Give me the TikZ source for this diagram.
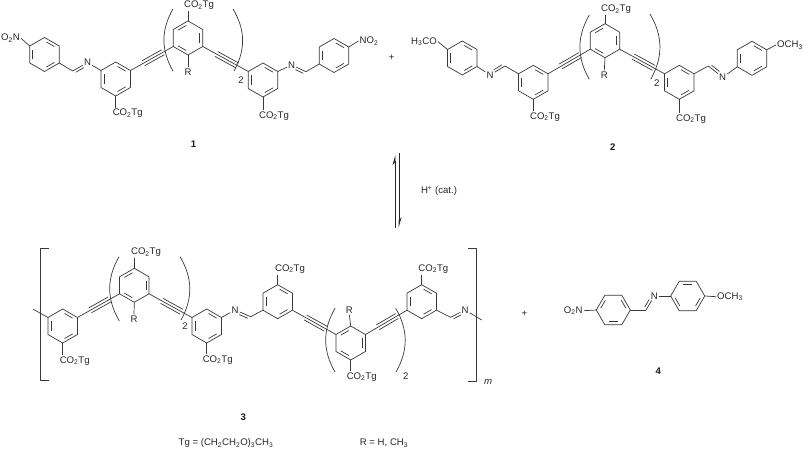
\documentclass[tikz,border=0pt]{standalone}
\usepackage{fontspec}
\setmainfont{Liberation Sans}
\usetikzlibrary{calc, arrows.meta, positioning}
\tikzset{
  bond/.style={line width=0.7pt, color=black!78, line join=round},
  lbl/.style={font=\fontsize{9.6}{11}\selectfont, text=black!85, inner sep=1pt},
  num/.style={font=\fontsize{9.6}{11}\selectfont\bfseries, text=black!90, inner sep=1pt},
  equil/.style={line width=0.7pt, color=black!85, -{Stealth[left, length=9pt, width=5pt]}},
  parenl/.style={bond, bend right=30},
  parenr/.style={bond, bend left=30}
}
\newcommand{\coTg}{CO\textsubscript{2}Tg}
% ring: name, centre x, centre y, start angle, sides with an inner line
\newcommand{\benz}[5]{
  \coordinate (#1) at (#2,#3);
  \foreach \k in {0,...,5}{
    \coordinate (#1-\k) at ($(#1)+({17*sin(60*\k+#4)},{-17*cos(60*\k+#4)})$);
  }
  \draw[bond] (#1-0) -- (#1-1) -- (#1-2) -- (#1-3) -- (#1-4) -- (#1-5) -- cycle;
  \foreach \k in {#5}{
    \pgfmathtruncatemacro{\m}{mod(\k+1,6)}
    \draw[bond] ($($(#1-\k)!.16!(#1-\m)$)!.2!(#1)$) -- ($($(#1-\m)!.16!(#1-\k)$)!.2!(#1)$);
  }
}
% triple bond between two ring corners
\newcommand{\alkyne}[2]{
  \draw[bond] (#1) -- (#2);
  \draw[bond] ($($(#1)!.3!(#2)$)!2.8pt!90:(#2)$) -- ($($(#1)!.76!(#2)$)!2.8pt!90:(#2)$);
  \draw[bond] ($($(#1)!.3!(#2)$)!-2.8pt!90:(#2)$) -- ($($(#1)!.76!(#2)$)!-2.8pt!90:(#2)$);
}
% C=N: carbon, nitrogen node, side of the second line
\newcommand{\imine}[3]{
  \draw[bond] (#1) -- (#2);
  \draw[bond] ($($(#1)!.12!(#2)$)!#3!90:(#2)$) -- ($($(#1)!.66!(#2)$)!#3!90:(#2)$);
}
% ester group: name, ring corner, x, y, side of the label that the bond meets
\newcommand{\ester}[5]{
  \node[lbl] (#1) at (#3,#4) {\coTg};
  \draw[bond] (#2) -- (#2 |- #1.#5);
}
\begin{document}
\begin{tikzpicture}[x=1pt, y=-1pt]
  \useasboundingbox (0,0) rectangle (803,449);

  % Compound 1
  \benz{aa}{44.5}{54.5}{0}{0,2,4}
  \benz{ab}{115.7}{79}{0}{0,2,4}
  \benz{ac}{188}{38}{0}{1,3,5}
  \benz{ad}{263}{80}{0}{0,2,4}
  \benz{ae}{334}{55.5}{0}{0,2,4}
  \node[lbl] (aO) at (10.5,38.3) {O\textsubscript{2}N};
  \node[lbl] (aNO) at (369,41) {NO\textsubscript{2}};
  \draw[bond] (aa-5) -- (aO.east);
  \draw[bond] (ae-1) -- (aNO.west);
  \node[lbl] (aNl) at (87.5,62.5) {N};
  \coordinate (aCl) at (72.7,71);
  \draw[bond] (aa-2) -- (aCl);
  \imine{aCl}{aNl}{-2.6pt}
  \draw[bond] (aNl) -- (ab-5);
  \node[lbl] (aNr) at (291.7,65) {N};
  \coordinate (aCr) at (306,71.7);
  \draw[bond] (ad-1) -- (aNr);
  \imine{aCr}{aNr}{2.6pt}
  \draw[bond] (aCr) -- (ae-4);
  \alkyne{ab-1}{ac-4}
  \alkyne{ac-2}{ad-5}
  \ester{aTl}{ab-3}{127.7}{113.5}{north}
  \ester{aTm}{ac-0}{199}{5.5}{south}
  \ester{aTr}{ad-3}{274}{115.7}{north}
  \node[lbl] (aR) at (188,72) {R};
  \draw[bond] (ac-3) -- (aR.north);
  \draw[parenl] (173,9) to (173,71);
  \draw[parenr] (233,9) to (234,71);
  \node[lbl] (aTwo) at (241,80) {2};
  \node[num] (one) at (193.5,144) {1};
  \node[lbl] (plusA) at (391.7,57.5) {+};

  % Compound 2
  \benz{ba}{462.3}{58}{0}{0,2,4}
  \benz{bb}{533.3}{82.3}{0}{0,2,4}
  \benz{bc}{605}{40.7}{0}{1,3,5}
  \benz{bd}{679.3}{82.3}{0}{0,2,4}
  \benz{be}{752}{58.3}{0}{0,2,4}
  \node[lbl] (bO) at (424,41.7) {H\textsubscript{3}CO};
  \node[lbl] (bOr) at (790,45) {OCH\textsubscript{3}};
  \draw[bond] (ba-5) -- (bO.east);
  \draw[bond] (be-1) -- (bOr.west);
  \node[lbl] (bNl) at (490,75) {N};
  \coordinate (bCl) at (505,66);
  \draw[bond] (ba-2) -- (bNl);
  \imine{bCl}{bNl}{-2.6pt}
  \draw[bond] (bCl) -- (bb-5);
  \node[lbl] (bNr) at (722.7,77.3) {N};
  \coordinate (bCr) at (708.3,66);
  \draw[bond] (bd-1) -- (bCr);
  \imine{bCr}{bNr}{2.6pt}
  \draw[bond] (bNr) -- (be-4);
  \alkyne{bb-1}{bc-4}
  \alkyne{bc-2}{bd-5}
  \ester{bTl}{bb-3}{545}{116.7}{north}
  \ester{bTm}{bc-0}{616}{9.3}{south}
  \ester{bTr}{bd-3}{691}{119}{north}
  \node[lbl] (bR) at (604.3,75) {R};
  \draw[bond] (bc-3) -- (bR.north);
  \draw[parenl] (589.3,15) to (589.3,79.3);
  \draw[parenr] (650,14) to (650.7,79.3);
  \node[lbl] (bTwo) at (656.7,83.3) {2};
  \node[num] (two) at (612.7,147.3) {2};

  % Equilibrium
  \coordinate (eqAa) at (395,227.7);
  \coordinate (eqAb) at (395,155);
  \coordinate (eqBa) at (399,153);
  \coordinate (eqBb) at (399,227.5);
  \draw[equil] (eqAa) -- (eqAb);
  \draw[equil] (eqBa) -- (eqBb);
  \node[lbl] (cat) at (439,191) {H\textsuperscript{+} (cat.)};

  % Compound 3
  \draw[bond] (49,248) -- (40.7,248) -- (40.7,380.7) -- (49,380.7);
  \draw[bond] (468,248) -- (476.7,248) -- (476.7,381) -- (468,381);
  \node[lbl] (mm) at (488,381.7) {\textit{m}};
  \benz{ca}{62.7}{326}{0}{0,2,4}
  \benz{cb}{134.3}{285.3}{0}{1,3,5}
  \benz{cc}{206.7}{326}{0}{0,2,4}
  \benz{cd}{277.7}{301.7}{0}{0,2,4}
  \benz{ce}{350.7}{343}{0}{1,3,5}
  \benz{cf}{421.7}{301.7}{0}{0,2,4}
  \coordinate (endL) at (33.3,309.3);
  \draw[bond] (endL) -- (ca-5);
  \alkyne{ca-1}{cb-4}
  \alkyne{cb-2}{cc-5}
  \node[lbl] (cNa) at (235,310) {N};
  \coordinate (cCa) at (250.7,316.7);
  \draw[bond] (cc-1) -- (cNa);
  \imine{cCa}{cNa}{2.6pt}
  \draw[bond] (cCa) -- (cd-4);
  \alkyne{cd-2}{ce-5}
  \alkyne{ce-1}{cf-4}
  \node[lbl] (cNb) at (465,310) {N};
  \coordinate (cCb) at (450.7,317.3);
  \draw[bond] (cf-2) -- (cCb);
  \imine{cCb}{cNb}{-2.6pt}
  \coordinate (endR) at (481.7,320);
  \draw[bond] (cNb) -- (endR);
  \ester{cTa}{ca-3}{74.7}{361}{north}
  \ester{cTb}{cb-0}{146}{252.3}{south}
  \ester{cTc}{cc-3}{217.7}{360}{north}
  \ester{cTd}{cd-0}{290}{269}{south}
  \ester{cTe}{ce-3}{361.7}{376.7}{north}
  \ester{cTf}{cf-0}{433.3}{269}{south}
  \node[lbl] (cRa) at (134,319) {R};
  \draw[bond] (cb-3) -- (cRa.north);
  \node[lbl] (cRb) at (349.3,310) {R};
  \draw[bond] (ce-0) -- (cRb.south);
  \draw[parenl] (119,256.7) to (119.3,321);
  \draw[parenr] (180,256.7) to (181,320);
  \draw[parenl] (335,308.3) to (335,372);
  \draw[parenr] (395.7,308.3) to (396,372);
  \node[lbl] (cTwoa) at (185,325.7) {2};
  \node[lbl] (cTwob) at (405.7,376) {2};
  \node[num] (three) at (243.3,417.3) {3};
  \node[lbl] (plusB) at (524.3,314) {+};

  % Compound 4
  \benz{da}{613.3}{310}{30}{0,2,4}
  \benz{db}{687.7}{296}{30}{1,3,5}
  \node[lbl] (dO) at (573.3,310.7) {O\textsubscript{2}N};
  \node[lbl] (dN) at (654.3,296) {N};
  \node[lbl] (dOr) at (730,296.7) {OCH\textsubscript{3}};
  \coordinate (dC) at (646,310);
  \draw[bond] (dO.east) -- (da-4);
  \draw[bond] (da-1) -- (dC);
  \imine{dC}{dN}{2.6pt}
  \draw[bond] (dN) -- (db-4);
  \draw[bond] (db-1) -- (dOr.west);
  \node[num] (four) at (658.3,371) {4};

  % Legend
  \node[lbl] (tgdef) at (226,443.3) {Tg = (CH\textsubscript{2}CH\textsubscript{2}O)\textsubscript{3}CH\textsubscript{3}};
  \node[lbl] (rdef) at (384,443.3) {R = H, CH\textsubscript{3}};
\end{tikzpicture}
\end{document}
